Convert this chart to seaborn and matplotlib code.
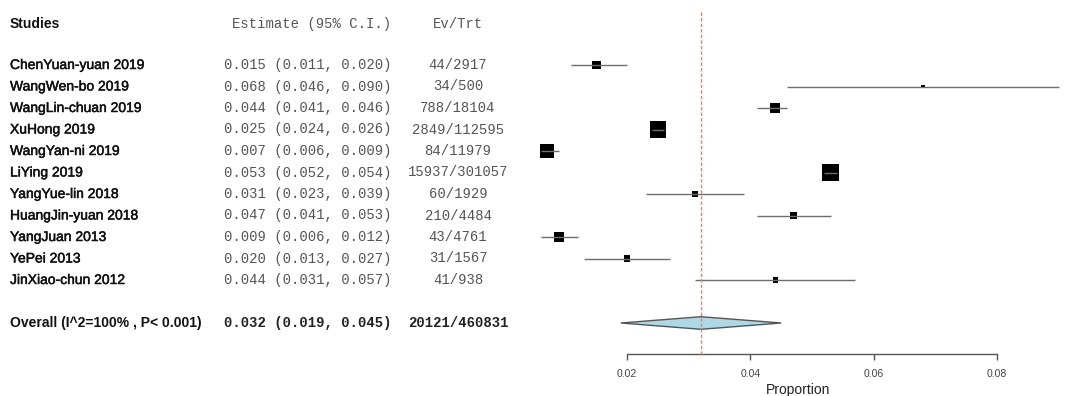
import numpy as np
import pandas as pd
import matplotlib
matplotlib.use("Agg")
import matplotlib.pyplot as plt
import matplotlib.transforms as mtransforms
import matplotlib.patheffects as pe
import seaborn as sns

# ---------------- data ----------------
studies = ["ChenYuan-yuan 2019", "WangWen-bo 2019", "WangLin-chuan 2019", "XuHong 2019",
           "WangYan-ni 2019", "LiYing 2019", "YangYue-lin 2018", "HuangJin-yuan 2018",
           "YangJuan 2013", "YePei 2013", "JinXiao-chun 2012"]
estimate = [0.015, 0.068, 0.044, 0.025, 0.007, 0.053, 0.031, 0.047, 0.009, 0.020, 0.044]
ci_low = [0.011, 0.046, 0.041, 0.024, 0.006, 0.052, 0.023, 0.041, 0.006, 0.013, 0.031]
ci_high = [0.020, 0.090, 0.046, 0.026, 0.009, 0.054, 0.039, 0.053, 0.012, 0.027, 0.057]
events = [44, 34, 788, 2849, 84, 15937, 60, 210, 43, 31, 41]
totals = [2917, 500, 18104, 112595, 11979, 301057, 1929, 4484, 4761, 1567, 938]
weights = [6.8, 0.8, 8.4, 21.5, 16.5, 24.3, 3.0, 4.1, 8.4, 4.1, 2.1]  # % (box area)
overall_est, overall_low, overall_high = 0.032, 0.019, 0.045
overall_label = "Overall (I^2=100% , P< 0.001)"
x_ticks = [0.02, 0.04, 0.06, 0.08]

df = pd.DataFrame({"study": studies, "est": estimate, "lo": ci_low, "hi": ci_high,
                   "ev": events, "n": totals, "w": weights})
df["row"] = np.arange(len(df))
overall_row = len(df) + 1

# ---------------- figure ----------------
sns.set_theme(style="white")
plt.rcParams["font.family"] = ["Liberation Sans", "DejaVu Sans"]

W, H = 1067, 396
fig = plt.figure(figsize=(W / 100, H / 100), dpi=100)
ax = fig.add_axes([530 / W, 0, (W - 530) / W, 1])

px_per_unit = 6167.0
x0_val = x_ticks[0] - (627 - 530) / px_per_unit
x1_val = x_ticks[0] + (W - 627) / px_per_unit
row_px = 21.5
y_top = (0 - 65) / row_px
y_bot = (H - 65) / row_px
ax.set_xlim(x0_val, x1_val)
ax.set_ylim(y_bot, y_top)

# CI lines
ax.hlines(df["row"], df["lo"], df["hi"], color="#6e6e6e", lw=1.0, zorder=3)

# boxes (area proportional to weight)
c = 150.0 / max(weights)
sns.scatterplot(data=df, x="est", y="row", size="w",
                sizes=(c * min(weights), c * max(weights)),
                marker="s", color="black", edgecolor="black", linewidth=0,
                legend=False, ax=ax, zorder=2)

# overall diamond
hh = 6.3 / row_px
ax.fill([overall_low, overall_est, overall_high, overall_est],
        [overall_row, overall_row - hh, overall_row, overall_row + hh],
        facecolor="#add8e6", edgecolor="#555555", lw=1.0, zorder=2)

# reference line
axis_row = (354 - 65) / row_px
ax.vlines(overall_est, (12 - 65) / row_px, axis_row, color="#f47a7a",
          lw=1.0, linestyles=(0, (2.5, 1.5)), zorder=4)

# axis
for s in ["top", "right", "left"]:
    ax.spines[s].set_visible(False)
ax.spines["bottom"].set_position(("data", axis_row))
ax.spines["bottom"].set_bounds(x_ticks[0], x_ticks[-1])
ax.spines["bottom"].set_color("#555555")
ax.spines["bottom"].set_linewidth(1.0)
ax.set_xticks(x_ticks)
ax.set_xticklabels([f"{t:.2f}" for t in x_ticks])
ax.tick_params(axis="x", bottom=True, direction="out", length=4.5, width=1.0,
               color="#555555", labelsize=7.5, labelcolor="#444444", pad=6.5)
ax.set_yticks([])
ax.set_xlabel("Proportion", fontsize=10, color="#222222", labelpad=3)
ax.set_ylabel("")

# ---------------- text table ----------------
tr = mtransforms.blended_transform_factory(fig.transFigure, ax.transData)
mono = ["Liberation Mono", "DejaVu Sans Mono"]
header_row = (24 - 65) / row_px
x_name = 10 / W
x_est = 391 / W
x_ev = 458 / W
thick = [pe.withStroke(linewidth=0.35, foreground="#111111")]

ax.text(x_name, header_row, "Studies", transform=tr, ha="left", va="center",
        fontsize=10, fontweight="bold", color="#111111")
ax.text(x_est, header_row, "Estimate (95% C.I.)", transform=tr, ha="right", va="center",
        fontsize=10, family=mono, color="#555555")
ax.text(x_ev, header_row, "Ev/Trt", transform=tr, ha="center", va="center",
        fontsize=10, family=mono, color="#555555")

for _, r in df.iterrows():
    ax.text(x_name, r["row"], r["study"], transform=tr, ha="left", va="center",
            fontsize=10, color="#111111", path_effects=thick)
    ax.text(x_est, r["row"], f"{r['est']:.3f} ({r['lo']:.3f}, {r['hi']:.3f})",
            transform=tr, ha="right", va="center", fontsize=10, family=mono, color="#555555")
    ax.text(x_ev, r["row"], f"{int(r['ev'])}/{int(r['n'])}", transform=tr,
            ha="center", va="center", fontsize=10, family=mono, color="#555555")

ax.text(x_name, overall_row, overall_label, transform=tr, ha="left", va="center",
        fontsize=10, fontweight="bold", color="#111111")
ax.text(x_est, overall_row, f"{overall_est:.3f} ({overall_low:.3f}, {overall_high:.3f})",
        transform=tr, ha="right", va="center", fontsize=10, family=mono,
        fontweight="bold", color="#222222")
ax.text(x_ev, overall_row, f"{sum(events)}/{sum(totals)}", transform=tr,
        ha="center", va="center", fontsize=10, family=mono, fontweight="bold", color="#222222")

fig.savefig("out.png", dpi=100)
